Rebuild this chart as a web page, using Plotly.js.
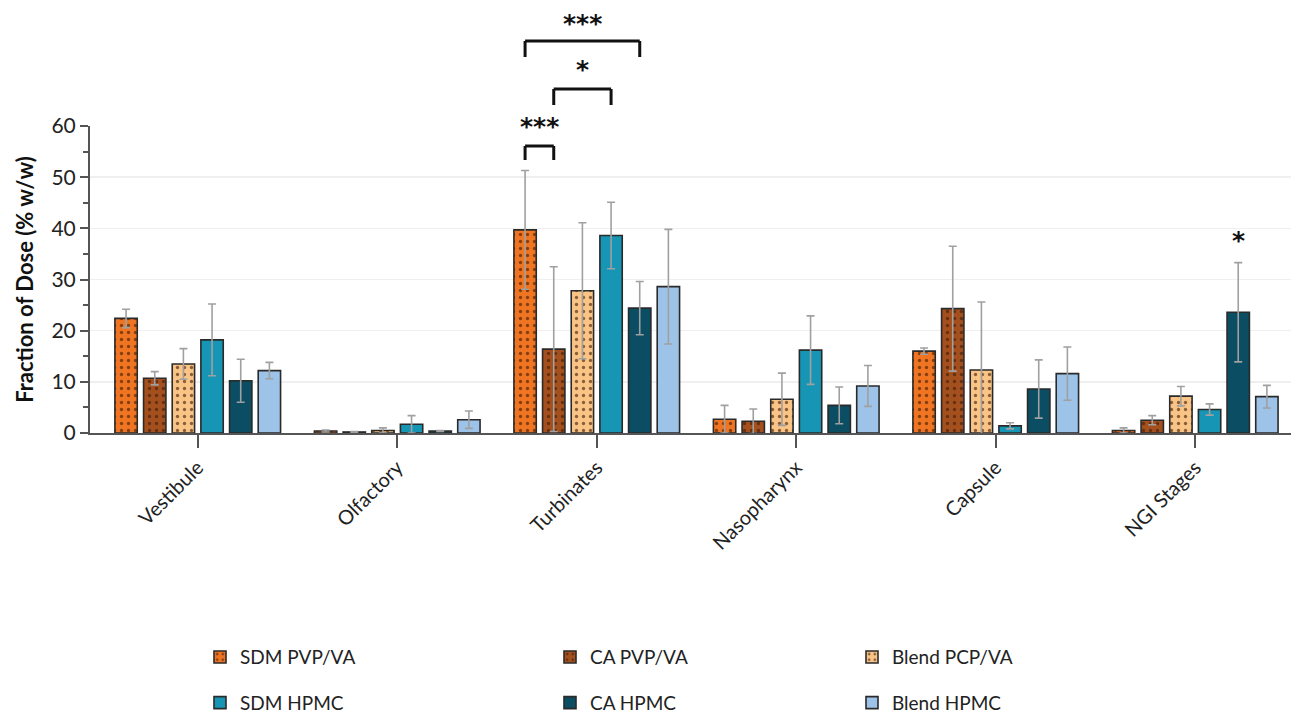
<!DOCTYPE html>
<html>
<head>
<meta charset="utf-8">
<script src="https://cdn.plot.ly/plotly-3.0.1.min.js"></script>
<style>html,body{margin:0;padding:0;background:#fff;}#chart{width:1291px;height:717px;}</style>
</head>
<body>
<div id="chart"></div>
<script>
const categories = ['Vestibule', 'Olfactory', 'Turbinates', 'Nasopharynx', 'Capsule', 'NGI Stages'];
const seriesNames = ['SDM PVP/VA', 'CA PVP/VA', 'Blend PCP/VA', 'SDM HPMC', 'CA HPMC', 'Blend HPMC'];

const sdmPvpVa    = [22.4, 0.4, 39.7, 2.7, 16.0, 0.5];
const sdmPvpVaErr = [1.8, 0.2, 11.6, 2.7, 0.6, 0.5];
const caPvpVa     = [10.7, 0.2, 16.4, 2.3, 24.3, 2.5];
const caPvpVaErr  = [1.3, 0.1, 16.1, 2.4, 12.2, 0.9];
const blendPcpVa    = [13.5, 0.5, 27.8, 6.6, 12.3, 7.2];
const blendPcpVaErr = [3.0, 0.5, 13.3, 5.1, 13.3, 1.9];
const sdmHpmc     = [18.2, 1.7, 38.6, 16.2, 1.4, 4.6];
const sdmHpmcErr  = [7.0, 1.7, 6.5, 6.7, 0.6, 1.1];
const caHpmc      = [10.2, 0.4, 24.4, 5.4, 8.6, 23.6];
const caHpmcErr   = [4.2, 0.1, 5.2, 3.6, 5.7, 9.7];
const blendHpmc    = [12.2, 2.6, 28.6, 9.2, 11.6, 7.1];
const blendHpmcErr = [1.6, 1.7, 11.2, 4.0, 5.2, 2.2];

// significance brackets: [category, barFrom, barTo, label]
const brackets = [
  ['Turbinates', 0, 4, '***'],
  ['Turbinates', 1, 3, '*'],
  ['Turbinates', 0, 1, '***']
];
const singleStars = [['NGI Stages', 4, '*']];

const values = [sdmPvpVa, caPvpVa, blendPcpVa, sdmHpmc, caHpmc, blendHpmc];
const errors = [sdmPvpVaErr, caPvpVaErr, blendPcpVaErr, sdmHpmcErr, caHpmcErr, blendHpmcErr];
const colors = ['#F07522', '#A4501E', '#F9C485', '#1696B4', '#0B4D63', '#9DC3E9'];
const patterned = [true, true, true, false, false, false];
const legendIds = ['legend', 'legend2', 'legend3', 'legend', 'legend2', 'legend3'];

const bargap = 0.138;
const slot = (1 - bargap) / 6;

const traces = values.map((v, i) => ({
  type: 'bar',
  name: seriesNames[i],
  x: categories,
  y: v,
  legend: legendIds[i],
  legendgroup: 'g' + i,
  marker: {
    color: colors[i],
    line: {color: '#2a2a2a', width: 1.6},
    pattern: patterned[i] ? {shape: '.', fgcolor: 'rgba(60,25,5,0.6)', bgcolor: colors[i], size: 7, solidity: 0.18, fillmode: 'replace'} : {shape: ''}
  },
  error_y: {type: 'data', array: errors[i], visible: true, color: '#a0a0a0', thickness: 1.6, width: 4}
}));

const plotTop = 126, plotBottom = 433;
const pyToPaper = py => (plotBottom - py) / (plotBottom - plotTop);

const shapes = [];
const annotations = [];
const bracketLevels = [[41, 57, 23], [89, 105, 70], [146, 160, 126]];
brackets.forEach((b, k) => {
  const c = categories.indexOf(b[0]);
  const x0 = c + (b[1] - 2.5) * slot;
  const x1 = c + (b[2] - 2.5) * slot;
  const [top, leg, star] = bracketLevels[k];
  const line = {color: '#111', width: 3};
  shapes.push({type: 'line', xref: 'x', yref: 'paper', x0: x0, x1: x1, y0: pyToPaper(top), y1: pyToPaper(top), line: line});
  shapes.push({type: 'line', xref: 'x', yref: 'paper', x0: x0, x1: x0, y0: pyToPaper(top), y1: pyToPaper(leg), line: line});
  shapes.push({type: 'line', xref: 'x', yref: 'paper', x0: x1, x1: x1, y0: pyToPaper(top), y1: pyToPaper(leg), line: line});
  annotations.push({xref: 'x', yref: 'paper', x: (x0 + x1) / 2, y: pyToPaper(star), text: '<b>' + b[3] + '</b>', showarrow: false,
    font: {family: 'DejaVu Sans', size: 25, color: '#111'}, yanchor: 'middle'});
});
singleStars.forEach(s => {
  const c = categories.indexOf(s[0]);
  annotations.push({xref: 'x', yref: 'paper', x: c + (s[1] - 2.5) * slot, y: pyToPaper(240), text: '<b>' + s[2] + '</b>', showarrow: false,
    font: {family: 'DejaVu Sans', size: 25, color: '#111'}, yanchor: 'middle'});
});

const legendBase = {orientation: 'v', yanchor: 'top', xanchor: 'left', y: -0.668, tracegroupgap: 18,
  font: {family: 'Lato', size: 19, color: '#222'}, bgcolor: 'rgba(0,0,0,0)', traceorder: 'grouped'};

const layout = {
  width: 1291, height: 717,
  margin: {l: 90, r: 0, t: plotTop, b: 717 - plotBottom, autoexpand: false},
  paper_bgcolor: '#fff', plot_bgcolor: '#fff',
  font: {family: 'Lato', color: '#222'},
  barmode: 'group', bargap: bargap, bargroupgap: 0.22,
  xaxis: {
    type: 'category', range: [-0.54, 5.48], automargin: false,
    showline: true, linecolor: '#555', linewidth: 2,
    ticks: 'outside', ticklen: 13, tickwidth: 2, tickcolor: '#555',
    tickangle: -45, tickfont: {family: 'Lato', size: 20, color: '#222'},
    showgrid: false, zeroline: false
  },
  yaxis: {
    range: [0, 60], dtick: 10, tick0: 0, automargin: false,
    showline: true, linecolor: '#555', linewidth: 2,
    ticks: 'outside', ticklen: 8, tickwidth: 2, tickcolor: '#555',
    minor: {dtick: 5, ticks: 'outside', ticklen: 5, tickwidth: 2, tickcolor: '#555', showgrid: false},
    showgrid: true, gridcolor: '#efefef', gridwidth: 1.5, zeroline: false,
    tickfont: {family: 'Lato', size: 21, color: '#222'},
    title: {text: '<b>Fraction of Dose (% w/w)</b>', font: {family: 'Lato', size: 22, color: '#111'}, standoff: 12}
  },
  legend: Object.assign({}, legendBase, {x: (200 - 90) / 1201}),
  legend2: Object.assign({}, legendBase, {x: (550 - 90) / 1201}),
  legend3: Object.assign({}, legendBase, {x: (852 - 90) / 1201}),
  shapes: shapes,
  annotations: annotations
};

Plotly.newPlot('chart', traces, layout, {displayModeBar: false, staticPlot: true});
</script>
</body>
</html>
